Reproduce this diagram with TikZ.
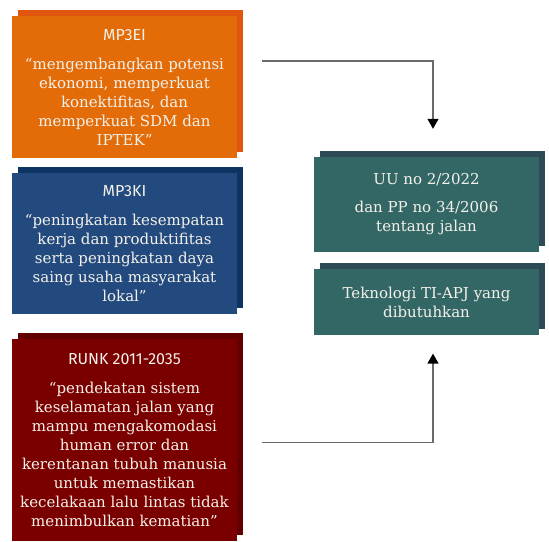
\documentclass[tikz,border=0pt]{standalone}
\usepackage{fontspec}
\setmainfont{DejaVu Serif}
\newfontfamily\headfont{Fira Sans}
\usetikzlibrary{positioning,calc,arrows.meta,shadows}
\definecolor{PlanOrange}{HTML}{E36C09}
\definecolor{PlanOrangeBk}{HTML}{E0560E}
\definecolor{PlanBlue}{HTML}{224A7E}
\definecolor{PlanBlueBk}{HTML}{0E3464}
\definecolor{PlanRed}{HTML}{7A0000}
\definecolor{PlanRedBk}{HTML}{600000}
\definecolor{PlanTeal}{HTML}{336766}
\definecolor{PlanTealBk}{HTML}{2E4A56}
\definecolor{PlanLine}{HTML}{6A6A6A}
\definecolor{PlanText}{HTML}{F4F1EA}

\begin{document}
\begin{tikzpicture}[x=1pt, y=1pt,
  box/.style={rectangle, minimum width=225pt, inner sep=0pt, align=center,
              text=PlanText, font=\fontsize{15}{19}\selectfont,
              drop shadow={shadow xshift=6pt, shadow yshift=6pt, opacity=1, fill=#1}},
  flow/.style={PlanLine, line width=1.3pt, -{Triangle[length=10pt,width=11pt,color=black]}}]
  \useasboundingbox (0,0) rectangle (549,541);

  % left column: the three plans
  \node[box=PlanOrangeBk, fill=PlanOrange, minimum height=142pt] (mpei) at (124.5,454)
        {{\headfont\fontsize{16}{18}\selectfont MP3EI}\\[10pt]
         “mengembangkan potensi\\ ekonomi, memperkuat\\ konektifitas, dan\\
         memperkuat SDM dan\\ IPTEK”};
  \node[box=PlanBlueBk, fill=PlanBlue, minimum height=141pt, below=15pt of mpei] (mpki)
        {{\headfont\fontsize{16}{18}\selectfont MP3KI}\\[10pt]
         “peningkatan kesempatan\\ kerja dan produktifitas\\ serta peningkatan daya\\
         saing usaha masyarakat\\ lokal”};
  \node[box=PlanRedBk, fill=PlanRed, minimum height=202pt, below=24pt of mpki] (runk)
        {{\headfont\fontsize{16}{18}\selectfont RUNK 2011-2035}\\[10pt]
         “pendekatan sistem\\ keselamatan jalan yang\\ mampu mengakomodasi\\
         human error dan\\ kerentanan tubuh manusia\\ untuk memastikan\\
         kecelakaan lalu lintas tidak\\ menimbulkan kematian”};

  % right column
  \node[box=PlanTealBk, fill=PlanTeal, minimum height=95pt] (uu) at (426.5,336.5)
        {UU no 2/2022\\[9pt] dan PP no 34/2006\\ tentang jalan};
  \node[box=PlanTealBk, fill=PlanTeal, minimum height=66pt, below=17pt of uu] (tek)
        {Teknologi TI-APJ yang\\ dibutuhkan};

  % connectors
  \coordinate (mpeiout) at ($(mpei.east)+(25pt,26pt)$);
  \coordinate (uuin) at ($(uu.north)+(6.5pt,28pt)$);
  \coordinate (runkout) at ($(runk.east)+(25pt,-3pt)$);
  \coordinate (tekin) at ($(tek.south)+(6.5pt,-18pt)$);
  \draw[flow] (mpeiout) -| (uuin);
  \draw[flow] (runkout) -| (tekin);
\end{tikzpicture}
\end{document}
